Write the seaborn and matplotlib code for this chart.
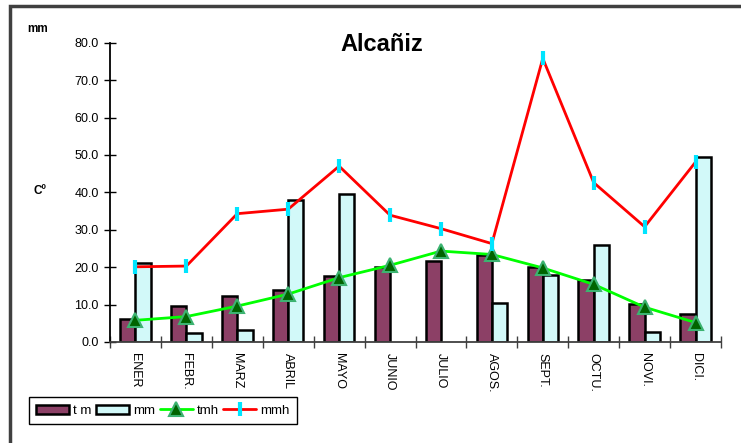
import matplotlib
matplotlib.use("Agg")
import matplotlib.pyplot as plt
import matplotlib.patches as mpatches
import numpy as np
import pandas as pd
import seaborn as sns

meses = ['ENER', 'FEBR.', 'MARZ', 'ABRIL', 'MAYO', 'JUNIO',
         'JULIO', 'AGOS.', 'SEPT.', 'OCTU.', 'NOVI.', 'DICI.']
t_m = [6.1, 9.6, 12.3, 14.0, 17.6, 20.1, 21.7, 23.2, 20.1, 16.7, 10.1, 7.5]
mm = [21.0, 2.5, 3.2, 37.9, 39.5, np.nan, np.nan, 10.3, 18.0, 25.9, 2.8, 49.4]
tmh = [5.8, 6.8, 9.6, 12.8, 17.2, 20.5, 24.3, 23.4, 19.8, 15.4, 9.3, 5.2]
mmh = [20.1, 20.3, 34.3, 35.5, 47.0, 33.9, 30.3, 26.3, 75.8, 42.6, 30.8, 48.1]
yticks = [0, 10, 20, 30, 40, 50, 60, 70, 80]

sns.set_style('white', {'xtick.bottom': True, 'ytick.left': True,
                        'text.color': 'black', 'xtick.color': 'black',
                        'ytick.color': 'black'})
plt.rcParams['font.family'] = ['Liberation Sans', 'DejaVu Sans']

barras = pd.DataFrame({
    'mes': meses * 2,
    'valor': t_m + mm,
    'serie': ['t m'] * 12 + ['mm'] * 12,
})
lineas = pd.DataFrame({'mes': meses, 'tmh': tmh, 'mmh': mmh})

fig = plt.figure(figsize=(7.41, 4.43), dpi=100)
ax = fig.add_axes([110 / 741, 1 - 342 / 443, 611 / 741, 299.3 / 443])

sns.barplot(data=barras, x='mes', y='valor', hue='serie', order=meses,
            palette={'t m': '#993366', 'mm': '#CCFFFF'}, width=0.6,
            edgecolor='black', linewidth=1.8, errorbar=None, ax=ax)

x = np.arange(len(meses))
ax.plot(x, lineas['tmh'], color='#00FF00', lw=2, marker='^', markersize=10,
        markerfacecolor='#006400', markeredgecolor='#3CB371', markeredgewidth=1.5,
        label='tmh', zorder=4)
ax.plot(x, lineas['mmh'], color='#FF0000', lw=2, marker='|', markersize=10,
        markeredgecolor='#00E5FF', markeredgewidth=3, label='mmh', zorder=4)

ax.set_xlim(-0.5, len(meses) - 0.5)
ax.set_ylim(0, 80)
ax.set_yticks(yticks)
ax.set_yticklabels([f'{v:.1f}' for v in yticks], fontsize=9)
ax.set_xticks(x)
ax.set_xticklabels(meses, rotation=-90, fontsize=9)
ax.set_xticks(np.arange(-0.5, len(meses)), minor=True)
ax.tick_params(axis='x', which='major', bottom=True, length=0, pad=8, colors='black')
ax.tick_params(axis='x', which='minor', bottom=True, direction='inout', length=8,
               width=1, color='#404040')
ax.tick_params(axis='y', which='major', left=True, direction='inout', length=8,
               width=1, pad=4, colors='black')
ax.set_xlabel('')
ax.set_ylabel('')

sns.despine(ax=ax, top=True, right=True)
ax.spines['left'].set_linewidth(1.3)
ax.spines['left'].set_color('black')
ax.spines['bottom'].set_linewidth(1.3)
ax.spines['bottom'].set_color('#404040')

ax.set_title('Alcañiz', fontsize=17, fontweight='bold', color='black', x=0.445, y=0.945)

fig.text(27 / 741, 1 - 29 / 443, 'mm', fontsize=8.5, fontweight='bold', va='center')
fig.text(33 / 741, 1 - 191 / 443, 'Cº', fontsize=8.5, fontweight='bold', va='center')

handles, labels = ax.get_legend_handles_labels()
leg = ax.legend(handles, labels, loc='lower left', ncol=4,
                bbox_to_anchor=(29 / 741, 1 - 424 / 443), bbox_transform=fig.transFigure,
                borderaxespad=0, fancybox=False, edgecolor='black', fontsize=9.5,
                handlelength=2.5, handletextpad=0.3, columnspacing=0.35,
                borderpad=0.55, framealpha=1)
for t in leg.get_texts():
    t.set_color('black')

fig.patches.append(mpatches.Rectangle((10 / 741, -0.2), 1.2, 1.2 - 6 / 443,
                                      transform=fig.transFigure, fill=False,
                                      edgecolor='#404040', linewidth=2.5))

fig.savefig('out.png', dpi=100)
